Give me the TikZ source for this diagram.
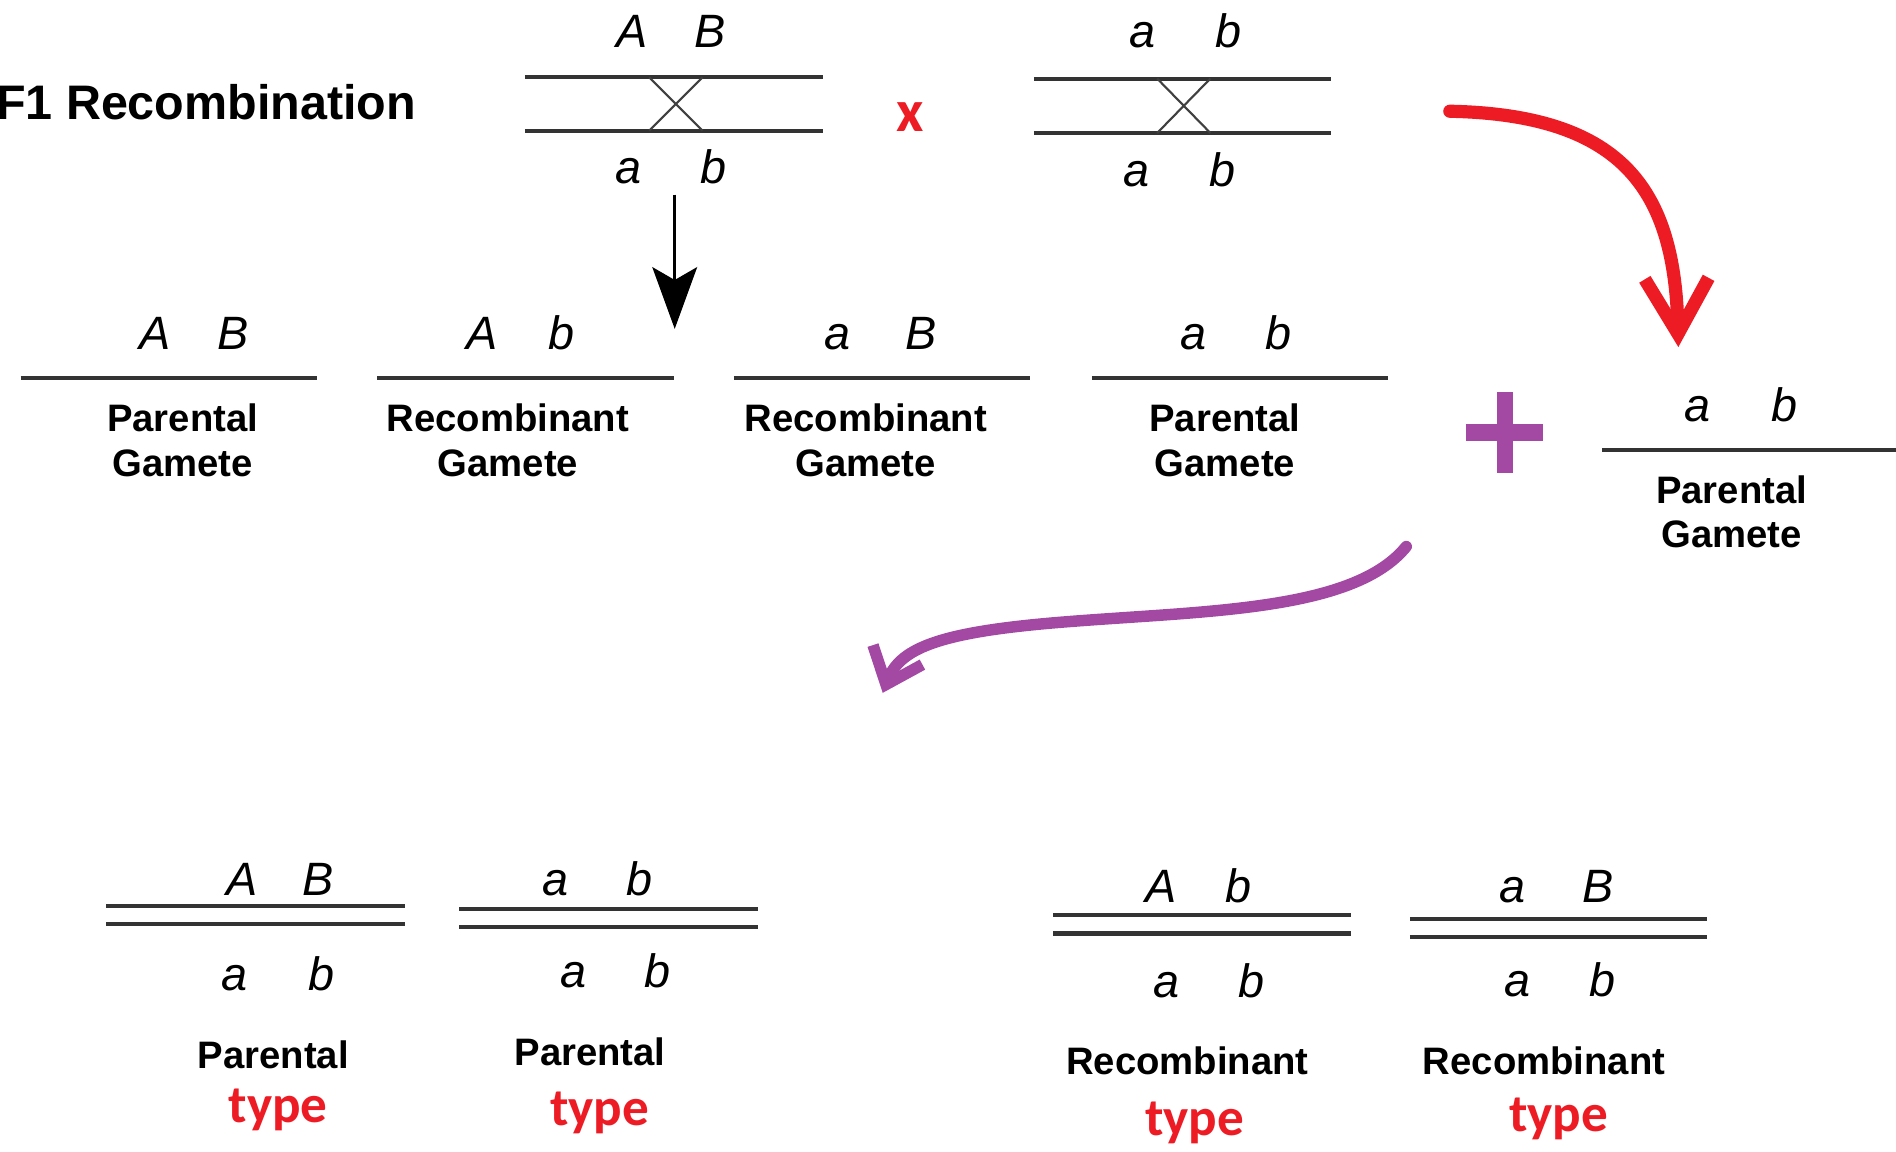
\documentclass[tikz,border=0pt]{standalone}
\usepackage{fontspec}
\setmainfont{Liberation Sans}
\newfontfamily\calfont{Carlito}
\usetikzlibrary{arrows.meta}
\definecolor{mred}{HTML}{ED1C24}
\definecolor{mpurple}{HTML}{A349A4}

\begin{document}
\begin{tikzpicture}[x=0.01cm, y=-0.01cm,
    allele/.style={font=\itshape\fontsize{11}{13}\selectfont, anchor=base, inner sep=0pt},
    gam/.style={font=\bfseries\fontsize{9}{10.5}\selectfont, align=center, anchor=base, inner sep=0pt},
    typ/.style={font=\calfont\bfseries\fontsize{12.5}{14}\selectfont, text=mred, anchor=base, inner sep=0pt},
    chrom/.style={line width=0.95pt, black!80},
    cross/.style={line width=0.5pt, black!75},
    bigarrow/.style={line width=3.1pt, line cap=round, line join=round}]
  \useasboundingbox (0,0) rectangle (1568,952);

  \node[anchor=base west, inner sep=0pt, font=\bfseries\fontsize{11.4}{13}\selectfont] (title) at (-4,99) {F1 Recombination};

  % the two parents
  \draw[chrom] (434,64) -- (681,64) (434,108) -- (681,108);
  \draw[cross] (537,64) -- (581,108) (581,64) -- (537,108);
  \node[allele] (t1A) at (523,39) {A}; \node[allele] (t1B) at (587,39) {B};
  \node[allele] (t1a) at (520,152) {a}; \node[allele] (t1b) at (590,152) {b};

  \node[typ, font=\calfont\bfseries\fontsize{14}{16}\selectfont] (cx) at (753,109) {x};

  \draw[chrom] (855,65) -- (1101,65) (855,110) -- (1101,110);
  \draw[cross] (957,65) -- (1001,110) (1001,65) -- (957,110);
  \node[allele] (t2A) at (945,39) {a}; \node[allele] (t2B) at (1016,39) {b};
  \node[allele] (t2a) at (940,154) {a}; \node[allele] (t2b) at (1011,154) {b};

  % gametes
  \draw[chrom] (17,313) -- (262,313) (312,313) -- (557,313)
    (607,313) -- (852,313) (903,313) -- (1148,313) (1325,372) -- (1568,372);
  \node[allele] (g1A) at (128,289) {A}; \node[allele] (g1B) at (193,289) {B};
  \node[allele] (g2A) at (399,289) {A}; \node[allele] (g2B) at (464,289) {b};
  \node[allele] (g3A) at (693,289) {a}; \node[allele] (g3B) at (762,289) {B};
  \node[allele] (g4A) at (987,289) {a}; \node[allele] (g4B) at (1057,289) {b};
  \node[allele] (g5A) at (1404,349) {a}; \node[allele] (g5B) at (1476,349) {b};
  \node[gam] (g1t) at (151,394) {Parental\\Gamete};
  \node[gam] (g2t) at (420,394) {Recombinant\\Gamete};
  \node[gam] (g3t) at (716,394) {Recombinant\\Gamete};
  \node[gam] (g4t) at (1013,394) {Parental\\Gamete};
  \node[gam] (g5t) at (1432,453) {Parental\\Gamete};

  \draw[mpurple, line width=3.9pt] (1212,357.5) -- (1276,357.5) (1244.5,324) -- (1244.5,391);

  % offspring
  \draw[chrom] (88,749) -- (335,749) (88,764) -- (335,764);
  \draw[chrom] (380,752) -- (627,752) (380,767) -- (627,767);
  \draw[chrom] (871,757) -- (1117,757) (871,772) -- (1117,772);
  \draw[chrom] (1166,760) -- (1412,760) (1166,775) -- (1412,775);
  \node[allele] (z1A) at (200,741) {A}; \node[allele] (z1B) at (263,741) {B};
  \node[allele] (z1a) at (194,819) {a}; \node[allele] (z1b) at (266,819) {b};
  \node[allele] (z2A) at (459,741) {a}; \node[allele] (z2B) at (529,741) {b};
  \node[allele] (z2a) at (474,817) {a}; \node[allele] (z2b) at (544,817) {b};
  \node[allele] (z3A) at (960,746) {A}; \node[allele] (z3B) at (1024,746) {b};
  \node[allele] (z3a) at (965,825) {a}; \node[allele] (z3b) at (1035,825) {b};
  \node[allele] (z4A) at (1251,746) {a}; \node[allele] (z4B) at (1322,746) {B};
  \node[allele] (z4a) at (1255,824) {a}; \node[allele] (z4b) at (1325,824) {b};
  \node[gam] (z1t) at (226,884) {Parental}; \node[typ] (z1y) at (230,928) {type};
  \node[gam] (z2t) at (488,881) {Parental}; \node[typ] (z2y) at (496,931) {type};
  \node[gam] (z3t) at (982,889) {Recombinant}; \node[typ] (z3y) at (988,939) {type};
  \node[gam] (z4t) at (1277,889) {Recombinant}; \node[typ] (z4y) at (1289,936) {type};

  % arrows
  \coordinate (cut) at (558,161); \coordinate (cutend) at (558,272);
  \coordinate (rs) at (1199,92); \coordinate (re) at (1388,287);
  \coordinate (ps) at (1163,452); \coordinate (pe) at (730,573);
  \draw[line width=0.8pt, -{Stealth[length=14.5pt,width=10.5pt,inset=3pt]}] (cut) -- (cutend);
  \draw[bigarrow, mred, -{Straight Barb[length=13pt,width=15pt]}] (rs) .. controls (1345,95) and (1385,160) .. (re);
  \draw[bigarrow, line width=2.7pt, mpurple, -{Straight Barb[length=7.5pt,width=12.5pt]}] (ps) .. controls (1120,505) and (1000,505) .. (885,514) .. controls (780,522) and (745,535) .. (pe);
\end{tikzpicture}
\end{document}
